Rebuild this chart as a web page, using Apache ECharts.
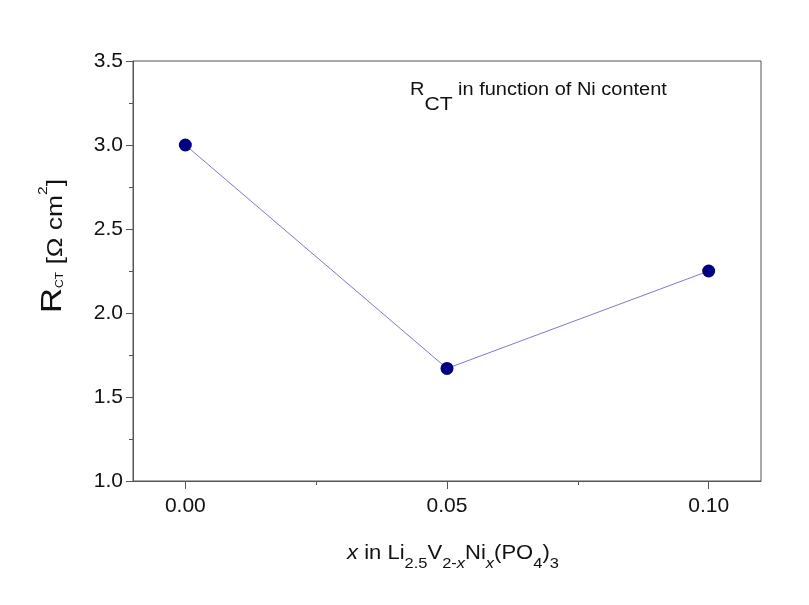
<!DOCTYPE html>
<html>
<head>
<meta charset="utf-8">
<script src="https://cdn.jsdelivr.net/npm/echarts@6/dist/echarts.min.js"></script>
<style>
  html, body { margin: 0; padding: 0; background: #fff; }
  #chart { width: 809px; height: 605px; }
</style>
</head>
<body>
<div id="chart"></div>
<script>
// Ni content x and charge-transfer resistance
var niContent = [0.00, 0.05, 0.10];
var rctValues = [3.00, 1.67, 2.25];
var xTickValues = [0.00, 0.05, 0.10];
var xMinorTickValues = [0.025, 0.075];

var FONT = 'Liberation Sans, Arial, sans-serif';

var myChart = echarts.init(document.getElementById('chart'));

var axisLineStyle = { color: '#555', width: 1 };

var option = {
    backgroundColor: '#fff',
    animation: false,
    grid: {
        left: 133,
        right: 48,
        top: 61,
        bottom: 124,
        show: true,
        borderColor: '#555',
        borderWidth: 1,
        backgroundColor: 'transparent'
    },
    xAxis: [
        {
            type: 'value',
            min: -0.01,
            max: 0.11,
            axisLine: { show: true, onZero: false, lineStyle: axisLineStyle },
            axisTick: {
                show: true,
                inside: false,
                length: 8,
                lineStyle: axisLineStyle,
                customValues: xTickValues
            },
            axisLabel: {
                show: true,
                margin: 15,
                color: '#111',
                fontSize: 21,
                fontFamily: FONT,
                customValues: xTickValues,
                formatter: function (v) { return v.toFixed(2); }
            },
            splitLine: { show: false }
        },
        {
            // minor ticks only
            type: 'value',
            position: 'bottom',
            gridIndex: 0,
            min: -0.01,
            max: 0.11,
            axisLine: { show: false, onZero: false },
            axisTick: {
                show: true,
                length: 4,
                lineStyle: axisLineStyle,
                customValues: xMinorTickValues
            },
            axisLabel: { show: false },
            splitLine: { show: false }
        }
    ],
    yAxis: {
        type: 'value',
        min: 1.0,
        max: 3.5,
        interval: 0.5,
        axisLine: { show: true, onZero: false, lineStyle: axisLineStyle },
        axisTick: { show: true, inside: false, length: 7, lineStyle: axisLineStyle },
        minorTick: { show: true, splitNumber: 2, length: 4, lineStyle: axisLineStyle },
        axisLabel: {
            margin: 10,
            color: '#111',
            fontSize: 21,
            fontFamily: FONT,
            formatter: function (v) { return v.toFixed(1); }
        },
        splitLine: { show: false }
    },
    series: [
        {
            name: 'RCT',
            type: 'line',
            xAxisIndex: 0,
            data: niContent.map(function (x, i) { return [x, rctValues[i]]; }),
            symbol: 'circle',
            symbolSize: 13,
            itemStyle: { color: '#000080' },
            lineStyle: { color: '#7b7bc4', width: 1 }
        }
    ],
    graphic: [
        {
            // y axis title, rotated
            type: 'text',
            x: 55,
            y: 246,
            rotation: Math.PI / 2,
            scaleX: 1.2,
            style: {
                text: '{r|R}{sub|CT}{m| [Ω cm}{sup|2}{m|]}',
                align: 'center',
                verticalAlign: 'middle',
                fill: '#111',
                rich: {
                    r: { fontSize: 29, lineHeight: 29, fontFamily: FONT, verticalAlign: 'bottom', padding: [0, 0, 2, 0] },
                    sub: { fontSize: 10, lineHeight: 10, fontFamily: FONT, verticalAlign: 'bottom', padding: [0, 0, 4, 0] },
                    m: { fontSize: 22, lineHeight: 22, fontFamily: FONT, verticalAlign: 'bottom', padding: [0, 0, 3, 0] },
                    sup: { fontSize: 13, lineHeight: 13, fontFamily: FONT, verticalAlign: 'bottom', padding: [0, 0, 20, 0] }
                }
            }
        },
        {
            // x axis title
            type: 'text',
            x: 453,
            y: 543,
            scaleX: 1.1,
            style: {
                text: '{i|x}{n| in Li}{s|2.5}{n|V}{s|2-}{si|x}{n|Ni}{si|x}{n|(PO}{s|4}{n|)}{s|3}',
                align: 'center',
                verticalAlign: 'top',
                fill: '#111',
                rich: {
                    n: { fontSize: 20, lineHeight: 20, fontFamily: FONT, verticalAlign: 'top' },
                    i: { fontSize: 20, lineHeight: 20, fontFamily: FONT, fontStyle: 'italic', verticalAlign: 'top' },
                    s: { fontSize: 15, lineHeight: 15, fontFamily: FONT, verticalAlign: 'top', padding: [13, 0, 0, 0] },
                    si: { fontSize: 15, lineHeight: 15, fontFamily: FONT, fontStyle: 'italic', verticalAlign: 'top', padding: [13, 0, 0, 0] }
                }
            }
        },
        {
            // annotation in plot
            type: 'text',
            x: 410,
            y: 81,
            scaleX: 1.11,
            style: {
                text: '{n|R}{s|CT}{n| in function of Ni content}',
                align: 'left',
                verticalAlign: 'top',
                fill: '#111',
                rich: {
                    n: { fontSize: 18, lineHeight: 18, fontFamily: FONT, verticalAlign: 'top' },
                    s: { fontSize: 19, lineHeight: 19, fontFamily: FONT, verticalAlign: 'top', padding: [14, 0, 0, 0] }
                }
            }
        }
    ]
};

window.addEventListener('resize', function () {
    myChart.resize();
});
myChart.setOption(option);
</script>
</body>
</html>
